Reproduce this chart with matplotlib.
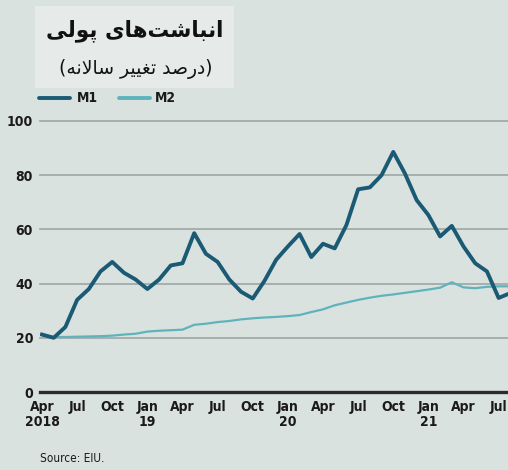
import matplotlib
matplotlib.use("Agg")
import matplotlib.pyplot as plt
from matplotlib.patches import Rectangle

# ---------------- data ----------------
tick_labels = ["Apr\n2018", "Jul", "Oct", "Jan\n19", "Apr", "Jul", "Oct", "Jan\n20",
               "Apr", "Jul", "Oct", "Jan\n21", "Apr", "Jul"]
m1 = [21.2, 20.0, 24.0, 34.0, 38.0, 44.5, 48.0, 44.0, 41.5, 38.0, 41.5, 46.7, 47.5,
      58.6, 51.0, 48.0, 41.5, 37.0, 34.5, 41.0, 48.8, 53.7, 58.3, 49.8, 54.7, 53.0,
      61.6, 74.8, 75.5, 80.0, 88.6, 80.6, 70.8, 65.3, 57.4, 61.3, 53.7, 47.5, 44.5,
      34.7, 36.5]
m2 = [21.0, 20.3, 20.3, 20.4, 20.5, 20.6, 20.8, 21.2, 21.5, 22.3, 22.6, 22.8, 23.0,
      24.8, 25.2, 25.8, 26.2, 26.8, 27.2, 27.5, 27.7, 28.0, 28.4, 29.5, 30.5, 32.0,
      33.0, 34.0, 34.8, 35.5, 36.0, 36.6, 37.2, 37.8, 38.5, 40.5, 38.6, 38.3, 38.8,
      39.0, 39.0]
series_names = ["M1", "M2"]
title_text = "انباشت‌های پولی"
subtitle_text = "درصد تغییر سالانه"
source_text = "Source: EIU."

# ---------------- minimal Arabic/Persian shaping ----------------
FORMS = {  # isolated, final, initial, medial
    "\u0627": (0xFE8D, 0xFE8E, None, None),
    "\u0628": (0xFE8F, 0xFE90, 0xFE91, 0xFE92),
    "\u062A": (0xFE95, 0xFE96, 0xFE97, 0xFE98),
    "\u0634": (0xFEB5, 0xFEB6, 0xFEB7, 0xFEB8),
    "\u0633": (0xFEB1, 0xFEB2, 0xFEB3, 0xFEB4),
    "\u0635": (0xFEB9, 0xFEBA, 0xFEBB, 0xFEBC),
    "\u062F": (0xFEA9, 0xFEAA, None, None),
    "\u0631": (0xFEAD, 0xFEAE, None, None),
    "\u0648": (0xFEED, 0xFEEE, None, None),
    "\u063A": (0xFECD, 0xFECE, 0xFECF, 0xFED0),
    "\u0644": (0xFEDD, 0xFEDE, 0xFEDF, 0xFEE0),
    "\u0646": (0xFEE5, 0xFEE6, 0xFEE7, 0xFEE8),
    "\u0647": (0xFEE9, 0xFEEA, 0xFEEB, 0xFEEC),
    "\u06CC": (0xFEEF, 0xFEF0, 0xFEF3, 0xFEF4),
    "\u067E": (0xFB56, 0xFB57, 0xFB58, 0xFB59),
}


def joins_next(ch):
    return ch in FORMS and FORMS[ch][2] is not None


def shape(text):
    chars = list(text)
    out = []
    i = 0
    while i < len(chars):
        c = chars[i]
        prev = chars[i - 1] if i > 0 else None
        prev_joins = prev is not None and joins_next(prev)
        if c == "\u0644" and i + 1 < len(chars) and chars[i + 1] == "\u0627":
            out.append(chr(0xFEFC if prev_joins else 0xFEFB))
            i += 2
            continue
        if c in FORMS:
            nxt = chars[i + 1] if i + 1 < len(chars) else None
            next_joins = nxt is not None and nxt in FORMS and joins_next(c)
            iso, fin, ini, med = FORMS[c]
            if prev_joins and next_joins:
                g = med
            elif prev_joins:
                g = fin
            elif next_joins:
                g = ini
            else:
                g = iso
            out.append(chr(g))
        elif c == "\u200c":
            pass
        else:
            out.append(c)
        i += 1
    return "".join(reversed(out))


# ---------------- figure ----------------
W, H = 508, 470
bg = "#dae2df"
fig = plt.figure(figsize=(W / 100, H / 100), dpi=100, facecolor=bg)

def px(x0, y0, x1, y1):
    return [x0 / W, 1 - y1 / H, (x1 - x0) / W, (y1 - y0) / H]

ax = fig.add_axes(px(40, 121, 508, 392))
ax.set_facecolor(bg)

x = list(range(len(m1)))
ax.plot(x, m2, color="#5fb3bd", lw=1.6, solid_capstyle="round", zorder=3)
ax.plot(x, m1, color="#1b5a74", lw=2.8, solid_joinstyle="round", zorder=4)

ax.set_ylim(0, 100)
ax.set_xlim(-0.17, 39.8)
ax.set_yticks([0, 20, 40, 60, 80, 100])
ax.set_yticklabels(["0", "20", "40", "60", "80", "100"])
ax.set_xticks(list(range(0, 3 * len(tick_labels), 3)))
ax.set_xticklabels(tick_labels, linespacing=1.05)

for s in ax.spines.values():
    s.set_visible(False)
ax.yaxis.grid(True, color="#9ea6a6", lw=1.2)
for gl in ax.yaxis.get_gridlines():
    gl.set_clip_on(False)
ax.axhline(0, color="#2b2b2b", lw=2.4, zorder=5, clip_on=False)
ax.tick_params(axis="both", length=0, labelsize=10, colors="#1a1a1a")
ax.tick_params(axis="y", pad=5)
ax.tick_params(axis="x", pad=6)
lab_font = dict(family="DejaVu Sans", stretch="condensed", weight="bold")
for lab in ax.get_xticklabels() + ax.get_yticklabels():
    lab.set_fontfamily("DejaVu Sans")
    lab.set_fontstretch("condensed")
    lab.set_fontweight("bold")

# title box
fig.patches.append(Rectangle((35 / W, 1 - 88 / H), 199 / W, 82 / H,
                             transform=fig.transFigure, facecolor="#e6eae8",
                             edgecolor="none", zorder=0))
fig.text(135 / W, 1 - 31 / H, shape(title_text), ha="center", va="center",
         fontsize=15.5, fontweight="bold", family="DejaVu Sans", color="#111111")
fig.text(136 / W, 1 - 69 / H, "(" + shape(subtitle_text) + ")", ha="center", va="center",
         fontsize=13.5, family="DejaVu Sans", color="#111111")

# legend
ly = 1 - 98 / H
fig.add_artist(plt.Line2D([39 / W, 70 / W], [ly, ly], color="#1b5a74", lw=2.8,
                          solid_capstyle="round", transform=fig.transFigure))
fig.text(77 / W, ly, series_names[0], ha="left", va="center", fontsize=10,
         **lab_font, color="#1a1a1a")
fig.add_artist(plt.Line2D([119 / W, 150 / W], [ly, ly], color="#5fb3bd", lw=2.8,
                          solid_capstyle="round", transform=fig.transFigure))
fig.text(155 / W, ly, series_names[1], ha="left", va="center", fontsize=10,
         **lab_font, color="#1a1a1a")

fig.text(40 / W, 1 - 458 / H, source_text, ha="left", va="center", fontsize=8.5,
         family="DejaVu Sans", stretch="condensed", color="#1a1a1a")

fig.savefig("out.png", dpi=100, facecolor=bg)
